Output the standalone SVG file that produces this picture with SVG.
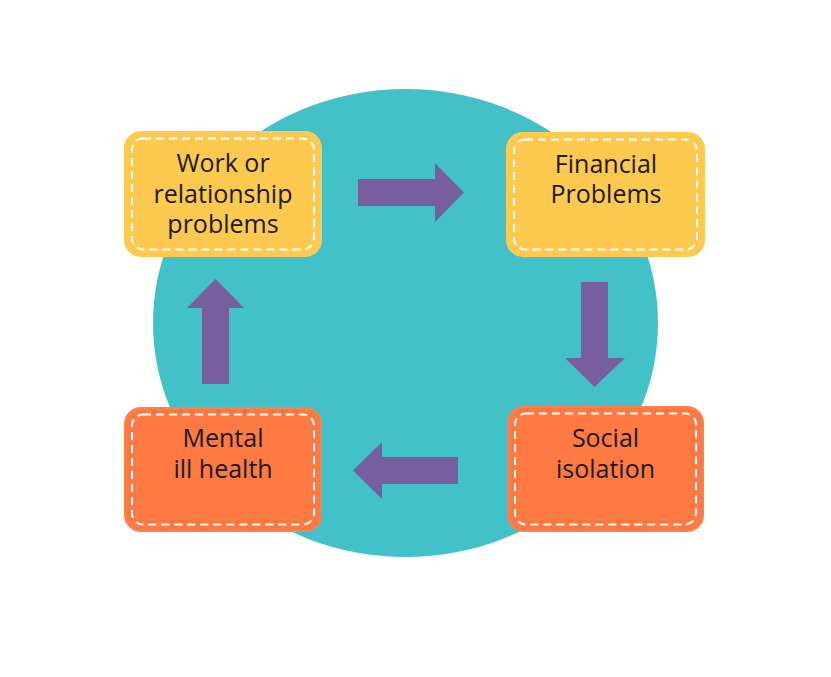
<svg xmlns="http://www.w3.org/2000/svg" width="831" height="677" viewBox="0 0 831 677">
<style>
.box{stroke-width:2}
.y{fill:#FDC94E;stroke:#FDCB55}
.o{fill:#FF7A42;stroke:#FF8048}
.dash{fill:none;stroke:#FFFFFF;stroke-width:2;stroke-dasharray:8 5}
.t{font-family:"Open Sans","Noto Sans",sans-serif;font-size:25px;fill:#1a1a1a;text-anchor:middle}
.arr{fill:#785E9E}
</style>
<rect width="831" height="677" fill="#FFFFFF"/>
<ellipse cx="405.5" cy="323" rx="252.5" ry="234" fill="#42C2C8"/>
<g id="connectors">
<polygon class="arr" points="358,179 435,179 435,163 464,192.5 435,222 435,206 358,206"/>
<polygon class="arr" points="581,282 608,282 608,358 625,358 594.5,387 565,358 581,358"/>
<polygon class="arr" points="458,457 382,457 382,442 353,470.5 382,499 382,484 458,484"/>
<polygon class="arr" points="202,384 202,308 187,308 215.5,279 244,308 229,308 229,384"/>
</g>
<g id="work">
<rect class="box y" x="125" y="132" width="196" height="124" rx="16"/>
<rect class="dash" x="132" y="138.5" width="182" height="111" rx="11"/>
<text class="t" x="223" y="172">Work or</text>
<text class="t" x="223" y="203">relationship</text>
<text class="t" x="223" y="233">problems</text>
</g>
<g id="financial">
<rect class="box y" x="507" y="133" width="197" height="123" rx="16"/>
<rect class="dash" x="514" y="139.5" width="183" height="110" rx="11"/>
<text class="t" x="606" y="173">Financial</text>
<text class="t" x="606" y="203">Problems</text>
</g>
<g id="social">
<rect class="box o" x="508" y="407" width="195" height="124" rx="16"/>
<rect class="dash" x="515" y="413.5" width="181" height="111" rx="11"/>
<text class="t" x="605.5" y="447">Social</text>
<text class="t" x="605.5" y="478">isolation</text>
</g>
<g id="mental">
<rect class="box o" x="125" y="408" width="196" height="123" rx="16"/>
<rect class="dash" x="132" y="414.5" width="182" height="110" rx="11"/>
<text class="t" x="223" y="447">Mental</text>
<text class="t" x="223" y="478">ill health</text>
</g>
</svg>
